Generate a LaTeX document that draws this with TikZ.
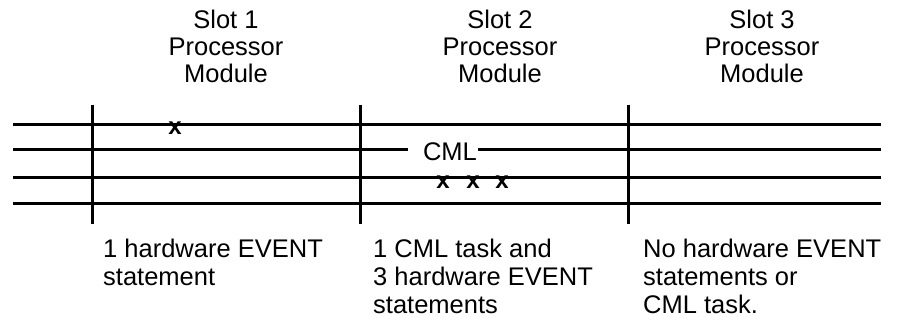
\documentclass[tikz,border=0pt]{standalone}
\usepackage{fontspec}
\setmainfont{Liberation Sans}
\begin{document}
\begin{tikzpicture}[x=1pt,y=-1pt,
  bar/.style={line width=3pt},
  head/.style={align=center,inner sep=0pt,anchor=north,font=\fontsize{25.5}{27.3}\selectfont},
  note/.style={align=left,inner sep=0pt,anchor=north west,font=\fontsize{25.5}{28}\selectfont},
  xmark/.style={inner sep=0pt,font=\fontsize{24}{24}\selectfont\bfseries}]
\useasboundingbox (0,0) rectangle (911,328);
% headers
\node[head] (h1) at (226,9.5) {Slot 1\\Processor\\Module};
\node[head] (h2) at (500,9.5) {Slot 2\\Processor\\Module};
\node[head] (h3) at (762,9.5) {Slot 3\\Processor\\Module};
% coordinates for rails
\coordinate (a1) at (13,125); \coordinate (b1) at (881,125);
\coordinate (a2) at (13,150); \coordinate (b2) at (881,150);
\coordinate (a3) at (13,178); \coordinate (b3) at (881,178);
\coordinate (a4) at (13,204); \coordinate (b4) at (881,204);
\coordinate (v1t) at (92,105);  \coordinate (v1b) at (92,224);
\coordinate (v2t) at (360,105); \coordinate (v2b) at (360,224);
\coordinate (v3t) at (628,105); \coordinate (v3b) at (628,224);
\node[inner sep=0pt,font=\fontsize{25.5}{25.5}\selectfont] (cml) at (450,152) {CML};
\coordinate (c1) at ([xshift=-15pt]cml.west |- a2);
\coordinate (c2) at ([xshift=1pt]cml.east |- a2);
\draw[bar] (a1) -- (b1);
\draw[bar] (a2) -- (c1);
\draw[bar] (c2) -- (b2);
\draw[bar] (a3) -- (b3);
\draw[bar] (a4) -- (b4);
\draw[bar] (v1t) -- (v1b);
\draw[bar] (v2t) -- (v2b);
\draw[bar] (v3t) -- (v3b);
% event marks
\node[xmark] (x1) at (175,128.5) {x};
\node[xmark] (x2) at (443,182) {x};
\node[xmark] (x3) at (473,182) {x};
\node[xmark] (x4) at (502,182) {x};
% notes
\node[note] (n1) at (103,238.5) {1 hardware EVENT\\statement};
\node[note] (n2) at (373,238.5) {1 CML task and\\3 hardware EVENT\\statements};
\node[note] (n3) at (643,238.5) {No hardware EVENT\\statements or\\CML task.};
\end{tikzpicture}
\end{document}
